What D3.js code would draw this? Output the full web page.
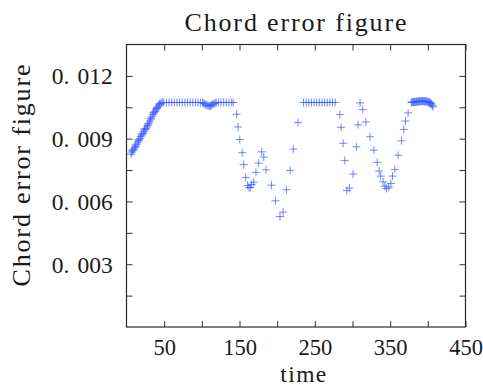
<!DOCTYPE html>
<html>
<head>
<meta charset="utf-8">
<script src="https://cdn.jsdelivr.net/npm/d3@7"></script>
<style>
  html, body { margin: 0; padding: 0; background: #fff; }
  svg { display: block; }
</style>
</head>
<body>
<svg id="chart" width="483" height="385"></svg>
<script>
// ---- data ----
const timeValues = [
  6, 7, 8, 8.5, 10, 11, 12, 12.5, 14, 15, 16, 16.5, 18, 19, 20, 20.5, 22, 23, 24, 24.5, 26, 27, 28, 28.5, 30, 31, 32, 32.5, 34, 35, 36, 36.5, 38, 39, 40, 40.5, 42, 43, 44, 44.5, 46, 47.5,
  49.5, 53, 56.5, 60, 63.5, 67, 70.5, 74, 77.5, 81, 84.5, 88, 91.5, 95, 98.5,
  101, 102.5, 104, 105.5, 107, 108.5, 110, 111.5, 113, 114.5, 116, 117.5, 119,
  122, 125.5, 129, 132.5, 136, 139.5, 141.5,
  146.2, 148, 150.4, 153.5, 155.5, 158.2, 160.8, 162.6, 164.4, 166.2, 168.8, 171.8, 175.4, 179.6, 182.2, 185.2, 192.4, 197.9, 203.8, 207.9, 212.3, 217.2, 221.4, 227.7,
  235, 238.5, 242, 245.5, 249, 252.5, 256, 259.5, 263, 266.5, 270, 273.5, 277,
  283.2, 284.9, 287.5, 289.7, 292.4, 295.8, 300.8, 305.2, 307.4, 310, 313.5, 317.8, 323.2, 328.4, 332.8, 335.3, 337.6, 340.6, 342.9, 345.1, 348.2, 350.9, 353.1, 356.2, 360.6, 365.1, 368.1, 370.4, 373.8,
  378, 379, 380, 381, 382, 383, 384, 385, 386, 387, 388, 389, 390, 391, 392, 393, 394, 395, 396, 397, 398, 399, 400, 401, 402, 403, 404, 405, 406, 407
];
const chordError = [
  0.00826, 0.00836, 0.00846, 0.00842, 0.00850, 0.00858, 0.00870, 0.00863, 0.00874, 0.00884, 0.00895, 0.00892, 0.00900, 0.00910, 0.00922, 0.00917, 0.00925, 0.00933, 0.00946, 0.00942, 0.00948, 0.00956, 0.00970, 0.00964, 0.00974, 0.00984, 0.00998, 0.00994, 0.01004, 0.01015, 0.01026, 0.01022, 0.01030, 0.01038, 0.01048, 0.01044, 0.01052, 0.01060, 0.01067, 0.01065, 0.01070, 0.01073,
  0.01073, 0.01073, 0.01073, 0.01073, 0.01073, 0.01073, 0.01073, 0.01073, 0.01073, 0.01073, 0.01073, 0.01073, 0.01073, 0.01073, 0.01073,
  0.01072, 0.01069, 0.01066, 0.01062, 0.01059, 0.01057, 0.01056, 0.01058, 0.01061, 0.01064, 0.01067, 0.01070, 0.01072,
  0.01073, 0.01073, 0.01073, 0.01073, 0.01073, 0.01073, 0.01073,
  0.01017, 0.00956, 0.00896, 0.00833, 0.00776, 0.00715, 0.00676, 0.00666, 0.00667, 0.00681, 0.00692, 0.00739, 0.00783, 0.00837, 0.00812, 0.00751, 0.00678, 0.00603, 0.00528, 0.00549, 0.00656, 0.00748, 0.00850, 0.00977,
  0.01073, 0.01073, 0.01073, 0.01073, 0.01073, 0.01073, 0.01073, 0.01073, 0.01073, 0.01073, 0.01073, 0.01073, 0.01073,
  0.01015, 0.00954, 0.00878, 0.00796, 0.00652, 0.00664, 0.00731, 0.00861, 0.00966, 0.01071, 0.01039, 0.00980, 0.00909, 0.00845, 0.00787, 0.00745, 0.00721, 0.00694, 0.00673, 0.00662, 0.00668, 0.00686, 0.00721, 0.00753, 0.00821, 0.00890, 0.00944, 0.00984, 0.01023,
  0.01073, 0.01074, 0.01075, 0.01074, 0.01076, 0.01075, 0.01076, 0.01077, 0.01076, 0.01078, 0.01077, 0.01079, 0.01078, 0.01080, 0.01079, 0.01080, 0.01079, 0.01078, 0.01079, 0.01077, 0.01078, 0.01076, 0.01077, 0.01075, 0.01073, 0.01072, 0.01069, 0.01065, 0.01059, 0.01052
];
const xTickValues = [50, 100, 150, 200, 250, 300, 350, 400, 450];
const xTickLabels = ["50", "", "150", "", "250", "", "350", "", "450"];
const yTickValues = [0.0015, 0.003, 0.0045, 0.006, 0.0075, 0.009, 0.0105, 0.012];
const yTickLabels = ["", "0.003", "", "0.006", "", "0.009", "", "0.012"];
const titleText = "Chord error figure";
const xLabelText = "time";
const yLabelText = "Chord error figure";

// ---- layout ----
const W = 483, H = 385;
const plot = { left: 126.5, right: 465.5, top: 44.5, bottom: 327 };
const serif = "'Liberation Serif', 'Times New Roman', serif";
const inkColor = "#1a1a1a";
const markerColor = "#3a5cff";

const svg = d3.select("#chart");

const x = d3.scaleLinear().domain([0, 450]).range([plot.left, plot.right]);
const y = d3.scaleLinear().domain([0, 0.0135]).range([plot.bottom, plot.top]);

// markers
const points = timeValues.map((t, i) => ({ t, v: chordError[i] }));
const arm = 4;
svg.append("g")
  .selectAll("path")
  .data(points)
  .join("path")
  .attr("transform", d => `translate(${x(d.t)},${y(d.v)})`)
  .attr("d", `M${-arm},0H${arm}M0,${-arm}V${arm}`)
  .attr("fill", "none")
  .attr("stroke", markerColor)
  .attr("stroke-opacity", 0.72)
  .attr("stroke-width", 1);

// axes (ticks inward on all four sides)
const tickLen = 6;
const fmtX = d => xTickLabels[xTickValues.indexOf(d)];
const fmtY = d => yTickLabels[yTickValues.indexOf(d)];

const gBottom = svg.append("g")
  .attr("transform", `translate(0,${plot.bottom})`)
  .call(d3.axisBottom(x).tickValues(xTickValues).tickSize(-tickLen).tickFormat(fmtX));
const gTop = svg.append("g")
  .attr("transform", `translate(0,${plot.top})`)
  .call(d3.axisTop(x).tickValues(xTickValues).tickSize(-tickLen).tickFormat(""));
const gLeft = svg.append("g")
  .attr("transform", `translate(${plot.left},0)`)
  .call(d3.axisLeft(y).tickValues(yTickValues).tickSize(-tickLen).tickFormat(fmtY));
const gRight = svg.append("g")
  .attr("transform", `translate(${plot.right},0)`)
  .call(d3.axisRight(y).tickValues(yTickValues).tickSize(-tickLen).tickFormat(""));

[gBottom, gTop, gLeft, gRight].forEach(g => {
  g.select(".domain").remove();
  g.selectAll(".tick line").attr("stroke", "#333").attr("stroke-width", 1);
});

gBottom.selectAll(".tick text")
  .attr("font-family", serif)
  .attr("font-size", 22.5)
  .attr("fill", inkColor)
  .attr("dy", 0)
  .attr("y", 355 - plot.bottom);

// y tick labels: "0." then a wider gap before the decimals, like the reference font
gLeft.selectAll(".tick text").each(function(d) {
  const s = fmtY(d);
  const sel = d3.select(this)
    .attr("font-family", serif)
    .attr("font-size", 23.5)
    .attr("fill", inkColor)
    .attr("x", -(plot.left - 112.7))
    .attr("dy", "0.34em")
    .attr("text-anchor", "end")
    .text(null);
  if (s) {
    const parts = s.split(".");
    sel.append("tspan").text(parts[0] + ".");
    sel.append("tspan").attr("dx", 8).text(parts[1]);
  }
});

// frame
svg.append("rect")
  .attr("x", plot.left).attr("y", plot.top)
  .attr("width", plot.right - plot.left).attr("height", plot.bottom - plot.top)
  .attr("fill", "none").attr("stroke", "#2a2a2a").attr("stroke-width", 1.2);

// title
svg.append("text")
  .attr("x", 295.5).attr("y", 30.7)
  .attr("text-anchor", "middle")
  .attr("font-family", serif).attr("font-size", 26)
  .attr("fill", inkColor)
  .attr("textLength", 222).attr("lengthAdjust", "spacing")
  .text(titleText);

// x label
svg.append("text")
  .attr("x", 303.3).attr("y", 381.5)
  .attr("text-anchor", "middle")
  .attr("font-family", serif).attr("font-size", 23.5)
  .attr("fill", inkColor)
  .attr("textLength", 46).attr("lengthAdjust", "spacing")
  .text(xLabelText);

// y label
svg.append("text")
  .attr("transform", `translate(29.5,175.5) rotate(-90)`)
  .attr("text-anchor", "middle")
  .attr("font-family", serif).attr("font-size", 26)
  .attr("fill", inkColor)
  .attr("textLength", 222).attr("lengthAdjust", "spacing")
  .text(yLabelText);
</script>
</body>
</html>
